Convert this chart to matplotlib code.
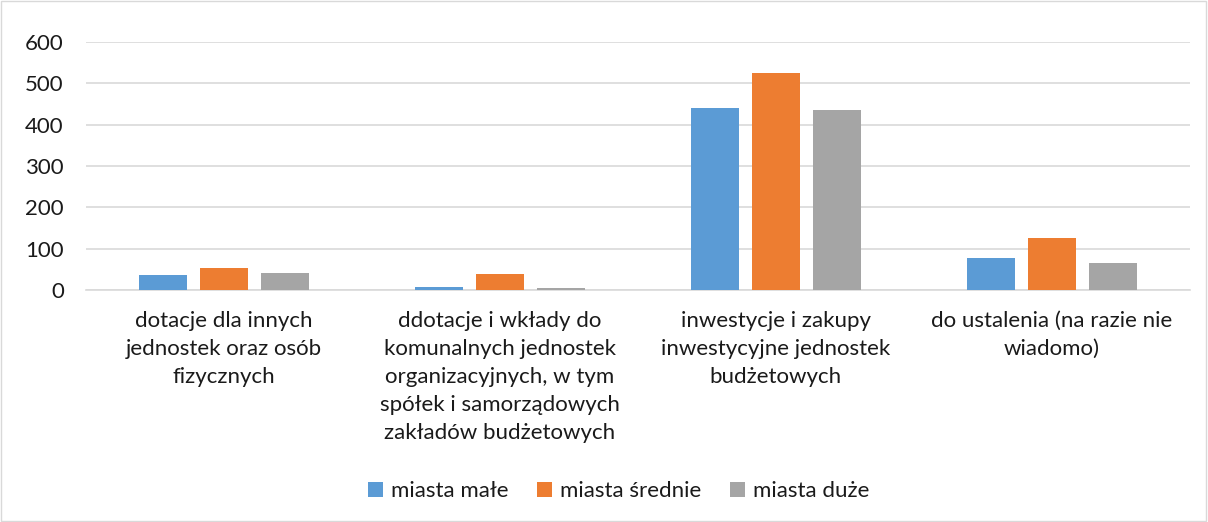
import numpy as np
import matplotlib.pyplot as plt
from matplotlib.patches import Rectangle

plt.rcParams['font.family'] = ['Lato', 'DejaVu Sans']

# dane
categories = [
    'dotacje dla innych\njednostek oraz osób\nfizycznych',
    'ddotacje i wkłady do\nkomunalnych jednostek\norganizacyjnych, w tym\nspółek i samorządowych\nzakładów budżetowych',
    'inwestycje i zakupy\ninwestycyjne jednostek\nbudżetowych',
    'do ustalenia (na razie nie\nwiadomo)',
]
series_names = ['miasta małe', 'miasta średnie', 'miasta duże']
miasta_male = [36, 8, 441, 78]
miasta_srednie = [54, 39, 525, 125]
miasta_duze = [41, 5, 436, 65]
colors = ['#5B9BD5', '#ED7D31', '#A5A5A5']

fig = plt.figure(figsize=(12.08, 5.22), dpi=100)
ax = fig.add_axes([0.0712, 0.4444, 0.9138, 0.4751])

x = np.arange(len(categories))
width = 0.174
step = 0.221
for i, (vals, name) in enumerate(zip([miasta_male, miasta_srednie, miasta_duze], series_names)):
    ax.bar(x + (i - 1) * step, vals, width, color=colors[i], label=name, zorder=3)

ax.set_xlim(-0.5, len(categories) - 0.5)
ax.set_ylim(0, 600)
ax.set_yticks(range(0, 601, 100))
ax.yaxis.grid(True, color='#D9D9D9', linewidth=1.2, zorder=0)
ax.set_xticks(x)
ax.set_xticklabels(categories, fontsize=16, color='#1a1a1a', linespacing=1.5)
ax.tick_params(axis='y', labelsize=16, labelcolor='#1a1a1a', length=0, pad=16)
ax.tick_params(axis='x', length=0, pad=15)
for s in ['top', 'right', 'left']:
    ax.spines[s].set_visible(False)
ax.spines['bottom'].set_color('#D9D9D9')
ax.spines['bottom'].set_linewidth(1.2)

fig.legend(loc='center', bbox_to_anchor=(0.512, 0.059), ncol=3, frameon=False,
           fontsize=16, handlelength=0.68, handleheight=0.68, handletextpad=0.35,
           columnspacing=1.3, labelcolor='#1a1a1a')

# ramka wykresu
fig.patches.append(Rectangle((0.001, 0.002), 0.997, 0.996, transform=fig.transFigure,
                             fill=False, edgecolor='#D9D9D9', linewidth=1))

plt.savefig('out.png', dpi=100)
